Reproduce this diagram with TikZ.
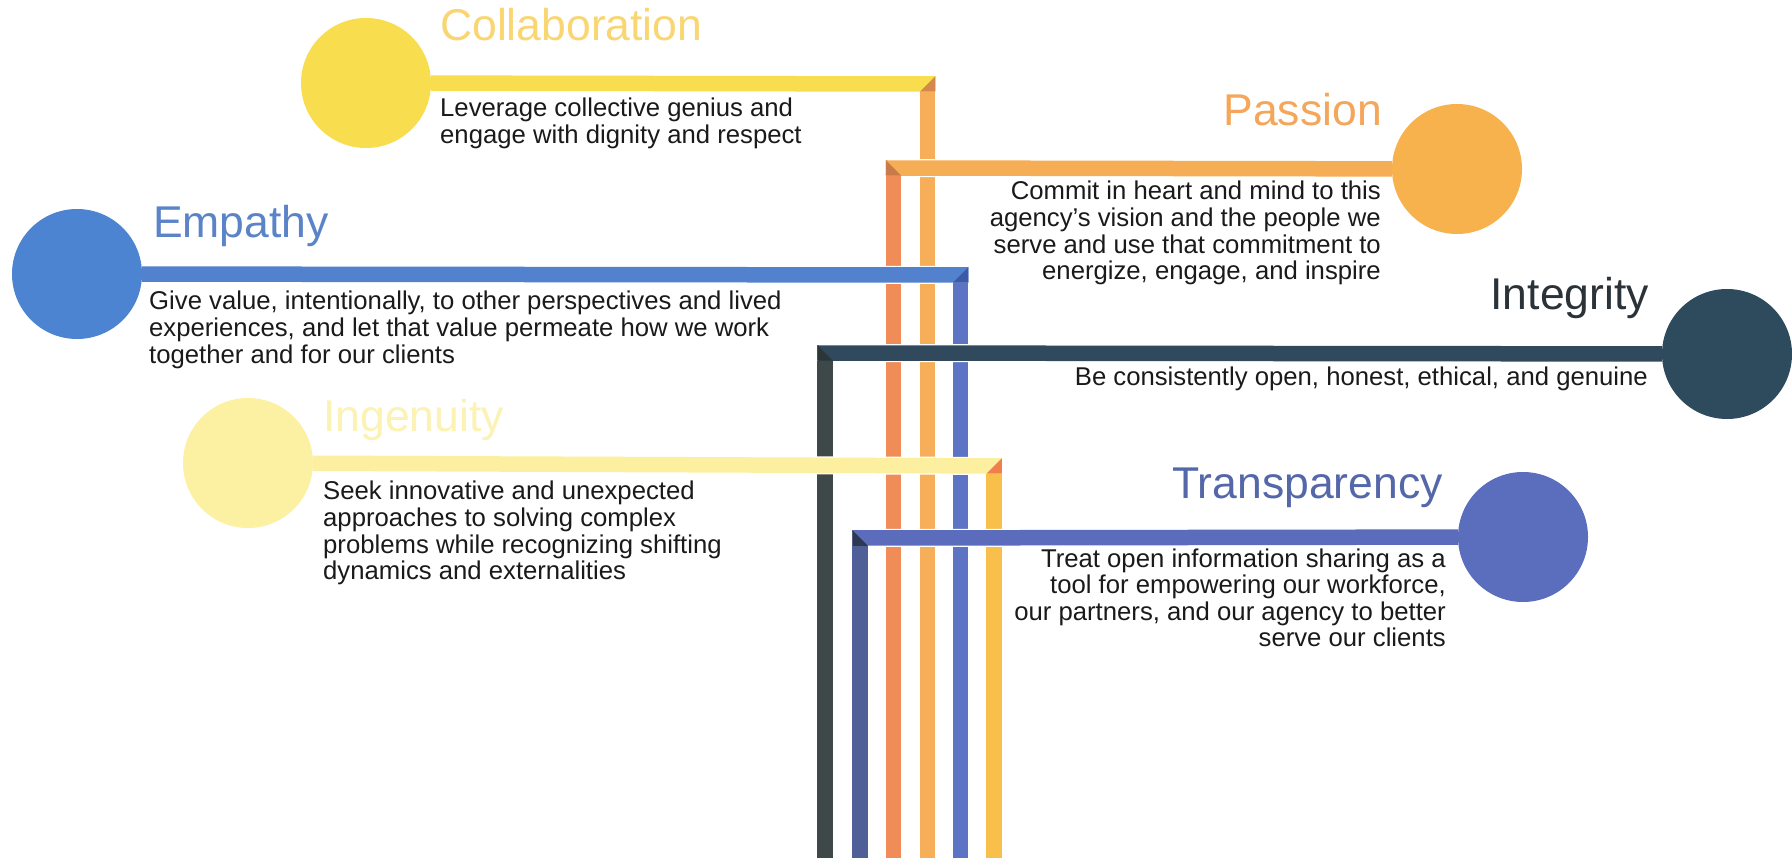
\documentclass[tikz,border=0pt]{standalone}
\usepackage{fontspec}
\setmainfont{Liberation Sans}
\usetikzlibrary{calc}
% Collaboration
\definecolor{colC}{HTML}{F8DD4E}
\definecolor{colCT}{HTML}{F9D672}
\definecolor{colCV}{HTML}{F6AE58}
\definecolor{colCK}{HTML}{D4884C}
% Passion
\definecolor{colP}{HTML}{F7B24E}
\definecolor{colPT}{HTML}{F4A65A}
\definecolor{colPH}{HTML}{F5AE55}
\definecolor{colPV}{HTML}{F08C58}
\definecolor{colPK}{HTML}{C97A4A}
% Empathy
\definecolor{colE}{HTML}{4C84D1}
\definecolor{colET}{HTML}{5B83C8}
\definecolor{colEH}{HTML}{5282CD}
\definecolor{colEV}{HTML}{5C74C3}
\definecolor{colEK}{HTML}{3C5AA8}
% Integrity
\definecolor{colI}{HTML}{2E4B5E}
\definecolor{colIT}{HTML}{2B3338}
\definecolor{colIH}{HTML}{30495C}
\definecolor{colIV}{HTML}{3E4848}
\definecolor{colIK}{HTML}{2C3636}
% Ingenuity
\definecolor{colG}{HTML}{FCF1A2}
\definecolor{colGT}{HTML}{FBF2B4}
\definecolor{colGH}{HTML}{FCF0A0}
\definecolor{colGV}{HTML}{F8C04A}
\definecolor{colGK}{HTML}{EF7F4F}
% Transparency
\definecolor{colT}{HTML}{5B6DBD}
\definecolor{colTT}{HTML}{5467A9}
\definecolor{colTH}{HTML}{5B6CBD}
\definecolor{colTV}{HTML}{4F5F97}
\definecolor{colTK}{HTML}{2F3852}
\definecolor{descblack}{HTML}{1A1A1A}
\newcommand{\lefttext}[1]{\vtop{\halign{##\hfil\cr #1\cr}}}
\newcommand{\righttext}[1]{\vtop{\halign{\hfil##\cr #1\cr}}}
\begin{document}
\begin{tikzpicture}[x=1pt,y=-1pt,
  bar/.style={line width=15.5pt, line cap=butt},
  gapline/.style={line width=18pt, draw=white, line cap=butt},
  dot/.style={circle, inner sep=0pt, minimum size=130pt},
  ttl/.style={inner sep=0pt, font=\fontsize{44.5}{50}\selectfont},
  desc/.style={inner sep=0pt, font=\fontsize{25.7}{26.6}\selectfont, text=descblack}]
\useasboundingbox[fill=white] (0,0) rectangle (1792,858);

% ---------- Collaboration ----------
\node[dot, fill=colC] (collab) at (366,83) {};
\coordinate (collabC) at (927.5,84);
\coordinate (collabB) at (927.5,858);
\draw[gapline] (collab) -- ($(collabC)+(7.75,0)$);
\draw[bar, draw=colC] (collab) -- ($(collabC)+(7.75,0)$);
\draw[bar, draw=colCV] ($(collabC)+(0,7.75)$) -- (collabB);
\fill[colCK] ($(collabC)+(7.75,-7.75)$) -- ($(collabC)+(7.75,7.75)$) -- ($(collabC)+(-7.75,7.75)$) -- cycle;
\node[ttl, text=colCT, anchor=base west] (collabT) at (440,41) {Collaboration};
\node[desc, anchor=base west] (collabD) at (440,117) {\lefttext{Leverage collective genius and\cr engage with dignity and respect}};

% ---------- Passion ----------
\node[dot, fill=colP] (passion) at (1457,169) {};
\coordinate (passionC) at (893.5,168);
\coordinate (passionB) at (893.5,858);
\draw[gapline] (passion) -- ($(passionC)+(-7.75,0)$);
\draw[bar, draw=colPH] (passion) -- ($(passionC)+(-7.75,0)$);
\draw[bar, draw=colPV] ($(passionC)+(0,7.75)$) -- (passionB);
\fill[colPK] ($(passionC)+(-7.75,-7.75)$) -- ($(passionC)+(-7.75,7.75)$) -- ($(passionC)+(7.75,7.75)$) -- cycle;
\node[ttl, text=colPT, anchor=base east] (passionT) at (1382,126) {Passion};
\node[desc, anchor=base east] (passionD) at (1381,200) {\righttext{Commit in heart and mind to this\cr agency’s vision and the people we\cr serve and use that commitment to\cr energize, engage, and inspire}};

% ---------- Empathy ----------
\node[dot, fill=colE] (empathy) at (77,274) {};
\coordinate (empathyC) at (960.5,275);
\coordinate (empathyB) at (960.5,858);
\draw[gapline] (empathy) -- ($(empathyC)+(7.75,0)$);
\draw[bar, draw=colEH] (empathy) -- ($(empathyC)+(7.75,0)$);
\draw[bar, draw=colEV] ($(empathyC)+(0,7.75)$) -- (empathyB);
\fill[colEK] ($(empathyC)+(7.75,-7.75)$) -- ($(empathyC)+(7.75,7.75)$) -- ($(empathyC)+(-7.75,7.75)$) -- cycle;
\node[ttl, text=colET, anchor=base west] (empathyT) at (153,238) {Empathy};
\node[desc, anchor=base west] (empathyD) at (149,310) {\lefttext{Give value, intentionally, to other perspectives and lived\cr experiences, and let that value permeate how we work\cr together and for our clients}};

% ---------- Integrity ----------
\node[dot, fill=colI] (integrity) at (1727,354) {};
\coordinate (integrityC) at (825,353);
\coordinate (integrityB) at (825,858);
\draw[gapline] (integrity) -- ($(integrityC)+(-7.75,0)$);
\draw[bar, draw=colIH] (integrity) -- ($(integrityC)+(-7.75,0)$);
\draw[bar, draw=colIV] ($(integrityC)+(0,7.75)$) -- (integrityB);
\fill[colIK] ($(integrityC)+(-7.75,-7.75)$) -- ($(integrityC)+(-7.75,7.75)$) -- ($(integrityC)+(7.75,7.75)$) -- cycle;
\node[ttl, text=colIT, anchor=base east] (integrityT) at (1649,310) {Integrity};
\node[desc, anchor=base east] (integrityD) at (1648,386) {\righttext{Be consistently open, honest, ethical, and genuine}};

% ---------- Ingenuity ----------
\node[dot, fill=colG] (ingenuity) at (248,463) {};
\coordinate (ingenuityC) at (994,466);
\coordinate (ingenuityB) at (994,858);
\draw[gapline] (ingenuity) -- ($(ingenuityC)+(7.75,0)$);
\draw[bar, draw=colGH] (ingenuity) -- ($(ingenuityC)+(7.75,0)$);
\draw[bar, draw=colGV] ($(ingenuityC)+(0,7.75)$) -- (ingenuityB);
\fill[colGK] ($(ingenuityC)+(7.75,-7.75)$) -- ($(ingenuityC)+(7.75,7.75)$) -- ($(ingenuityC)+(-7.75,7.75)$) -- cycle;
\node[ttl, text=colGT, anchor=base west] (ingenuityT) at (323,432) {Ingenuity};
\node[desc, anchor=base west] (ingenuityD) at (323,500) {\lefttext{Seek innovative and unexpected\cr approaches to solving complex\cr problems while recognizing shifting\cr dynamics and externalities}};

% ---------- Transparency ----------
\node[dot, fill=colT] (transp) at (1523,537) {};
\coordinate (transpC) at (860,538);
\coordinate (transpB) at (860,858);
\draw[gapline] (transp) -- ($(transpC)+(-7.75,0)$);
\draw[bar, draw=colTH] (transp) -- ($(transpC)+(-7.75,0)$);
\draw[bar, draw=colTV] ($(transpC)+(0,7.75)$) -- (transpB);
\fill[colTK] ($(transpC)+(-7.75,-7.75)$) -- ($(transpC)+(-7.75,7.75)$) -- ($(transpC)+(7.75,7.75)$) -- cycle;
\node[ttl, text=colTT, anchor=base east] (transpT) at (1443,499) {Transparency};
\node[desc, anchor=base east] (transpD) at (1446,567) {\righttext{Treat open information sharing as a\cr tool for empowering our workforce,\cr our partners, and our agency to better\cr serve our clients}};
\end{tikzpicture}
\end{document}
